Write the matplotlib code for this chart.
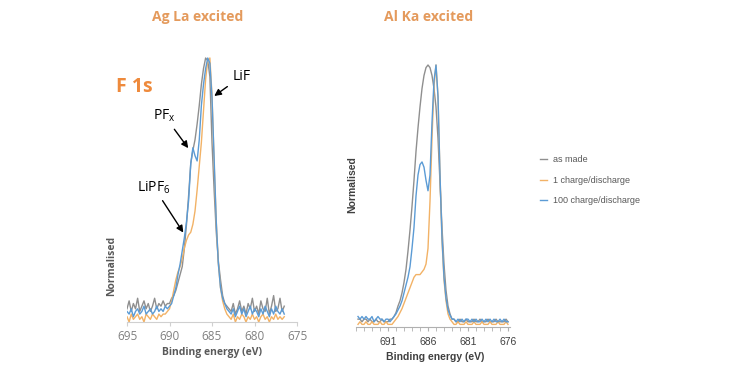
import numpy as np
import matplotlib
matplotlib.use("Agg")
import matplotlib.pyplot as plt
from matplotlib.ticker import MultipleLocator

# F 1s spectra, Ag La excited (695 -> 676.5 eV, 0.25 eV steps)
energy_ag = np.arange(695.0, 676.49, -0.25)
ag_as_made = [0.05, 0.08, 0.04, 0.07, 0.05, 0.09, 0.04, 0.06, 0.08, 0.05, 0.07, 0.04, 0.06, 0.09,
              0.05, 0.07, 0.06, 0.08, 0.06, 0.07, 0.07,
              0.09, 0.10, 0.12, 0.15, 0.18, 0.21, 0.28, 0.37, 0.48, 0.60, 0.65, 0.69, 0.75, 0.82,
              0.90, 0.96, 1.00, 0.99, 0.93, 0.68, 0.50, 0.34, 0.23, 0.16, 0.10, 0.07, 0.06, 0.05,
              0.04, 0.07, 0.03, 0.05, 0.08, 0.04, 0.06, 0.03, 0.07, 0.05, 0.09, 0.04, 0.06, 0.03,
              0.08, 0.05, 0.04, 0.09, 0.03, 0.06, 0.10, 0.04, 0.05, 0.09, 0.04, 0.06]
ag_1_cycle = [0.02, 0.00, 0.03, 0.01, 0.02, 0.03, 0.01, 0.02, 0.00, 0.03, 0.02, 0.01, 0.03, 0.02,
              0.01, 0.03, 0.02, 0.03,
              0.03, 0.04, 0.05, 0.08, 0.12, 0.16, 0.19, 0.21, 0.24, 0.28, 0.31, 0.33, 0.34, 0.37,
              0.42, 0.50, 0.59, 0.68, 0.80, 0.92, 0.99, 1.00, 0.86, 0.60, 0.38, 0.22, 0.13, 0.08,
              0.05, 0.03, 0.02,
              0.01, 0.03, 0.00, 0.02, 0.01, 0.03, 0.02, 0.00, 0.02, 0.01, 0.03, 0.01, 0.02, 0.00,
              0.02, 0.03, 0.01, 0.02, 0.00, 0.02, 0.01, 0.03, 0.01, 0.02, 0.01, 0.02]
ag_100_cycles = [0.04, 0.03, 0.05, 0.02, 0.04, 0.05, 0.03, 0.04, 0.06, 0.03, 0.04, 0.05, 0.03, 0.04,
                 0.06, 0.04, 0.05, 0.04, 0.06, 0.05, 0.06,
                 0.07, 0.10, 0.13, 0.18, 0.22, 0.27, 0.32, 0.38, 0.46, 0.60, 0.66, 0.63, 0.61, 0.69,
                 0.82, 0.90, 0.96, 1.00, 0.98, 0.85, 0.62, 0.38, 0.22, 0.13, 0.09, 0.07, 0.05, 0.04,
                 0.03, 0.05, 0.02, 0.04, 0.06, 0.03, 0.05, 0.02, 0.04, 0.06, 0.03, 0.05, 0.04, 0.02,
                 0.05, 0.03, 0.06, 0.04, 0.02, 0.05, 0.03, 0.06, 0.04, 0.03, 0.05, 0.03]

# F 1s spectra, Al Ka excited (694.75 -> 676 eV, 0.25 eV steps)
energy_al = np.arange(694.75, 675.99, -0.25)
al_as_made = [0.03, 0.03, 0.02, 0.03, 0.03, 0.02, 0.03, 0.02, 0.02, 0.03, 0.02, 0.02, 0.03, 0.02,
              0.02, 0.02, 0.03, 0.03, 0.04,
              0.055, 0.08, 0.10, 0.13, 0.17, 0.22, 0.29, 0.37, 0.46, 0.56, 0.67, 0.76, 0.84, 0.91,
              0.96, 0.99, 1.00, 0.99, 0.96, 0.91, 0.84, 0.72, 0.55, 0.38, 0.24, 0.14, 0.08, 0.05,
              0.03,
              0.03, 0.02, 0.02, 0.03, 0.02, 0.02, 0.03, 0.02, 0.02, 0.02, 0.03, 0.02, 0.02, 0.03,
              0.02, 0.02, 0.02, 0.03, 0.02, 0.02, 0.02, 0.03, 0.02, 0.02, 0.02, 0.02, 0.03, 0.02]
al_1_cycle = [0.01, 0.02, 0.01, 0.01, 0.02, 0.01, 0.01, 0.02, 0.01, 0.01, 0.01, 0.02, 0.01, 0.01,
              0.02, 0.01, 0.01, 0.01, 0.02,
              0.03, 0.04, 0.055, 0.07, 0.09, 0.11, 0.13, 0.15, 0.17, 0.19, 0.20, 0.20, 0.20, 0.21,
              0.22, 0.24, 0.30, 0.48, 0.72, 0.92, 1.00, 0.88, 0.58, 0.33, 0.18, 0.10, 0.05, 0.03,
              0.02,
              0.01, 0.01, 0.02, 0.01, 0.01, 0.01, 0.02, 0.01, 0.01, 0.01, 0.02, 0.01, 0.01, 0.01,
              0.02, 0.01, 0.01, 0.01, 0.02, 0.01, 0.01, 0.01, 0.02, 0.01, 0.01, 0.01, 0.02, 0.01]
al_100_cycles = [0.04, 0.03, 0.04, 0.03, 0.04, 0.03, 0.03, 0.04, 0.02, 0.03, 0.04, 0.03, 0.03, 0.02,
                 0.03, 0.03, 0.02, 0.03, 0.04,
                 0.05, 0.065, 0.08, 0.10, 0.13, 0.16, 0.19, 0.23, 0.30, 0.38, 0.50, 0.58, 0.62,
                 0.63, 0.61, 0.56, 0.52, 0.58, 0.78, 0.94, 1.00, 0.88, 0.58, 0.34, 0.19, 0.11,
                 0.065, 0.045, 0.03,
                 0.03, 0.02, 0.03, 0.02, 0.03, 0.02, 0.03, 0.03, 0.02, 0.03, 0.02, 0.03, 0.02, 0.02,
                 0.03, 0.02, 0.03, 0.02, 0.03, 0.02, 0.03, 0.02, 0.02, 0.03, 0.02, 0.03, 0.02, 0.02]

labels = ["as made", "1 charge/discharge", "100 charge/discharge"]
colors = ["#8f8f8f", "#f2b266", "#5b9bd5"]
ag_ticks = [695, 690, 685, 680, 675]
al_ticks = [691, 686, 681, 676]

W, H = 756, 370
fig = plt.figure(figsize=(W / 100, H / 100), dpi=100)


def px_axes(x0, x1, y_top, y_bot):
    return fig.add_axes([x0 / W, 1 - y_bot / H, (x1 - x0) / W, (y_bot - y_top) / H])


title_color = "#e49a5c"
axis_grey = "#d0d0d0"

# ---- left panel: Ag La ----
ax1 = px_axes(127, 297, 50, 322)
for series, c in zip([ag_as_made, ag_1_cycle, ag_100_cycles], colors):
    ax1.plot(energy_ag, series, color=c, lw=1.0)
ax1.set_xlim(695, 675)
ax1.set_ylim(0, 272 / 264)
ax1.set_xticks(ag_ticks)
ax1.set_xticklabels([str(t) for t in ag_ticks], fontsize=8.5, color="#808080", family="Open Sans")
ax1.tick_params(axis="x", length=3, color=axis_grey, pad=3)
ax1.set_yticks([])
for s in ["top", "right", "left"]:
    ax1.spines[s].set_visible(False)
ax1.spines["bottom"].set_color(axis_grey)

arrow = dict(arrowstyle="-|>", color="black", lw=1.0, mutation_scale=10)
ax1.annotate("LiF", xy=(685.0, 0.85), xytext=(682.6, 0.93), fontsize=10, va="center",
             family="Open Sans", arrowprops=arrow)
ax1.annotate(r"$\mathregular{PF_x}$", xy=(687.6, 0.65), xytext=(691.9, 0.78), fontsize=10,
             va="center", family="Open Sans", arrowprops=arrow)
ax1.annotate(r"$\mathregular{LiPF_6}$", xy=(688.2, 0.33), xytext=(693.8, 0.51), fontsize=10,
             va="center", family="Open Sans", arrowprops=arrow)

# ---- right panel: Al Ka ----
ax2 = px_axes(356, 510, 50, 327)
for series, c, lab in zip([al_as_made, al_1_cycle, al_100_cycles], colors, labels):
    ax2.plot(energy_al, series, color=c, lw=1.0, label=lab)
ax2.set_xlim(695, 675.75)
ax2.set_ylim(0, 277 / 262)
ax2.set_xticks(al_ticks)
ax2.set_xticklabels([str(t) for t in al_ticks], fontsize=7.5, color="#404040",
                    family="Liberation Sans")
ax2.xaxis.set_minor_locator(MultipleLocator(1))
ax2.tick_params(axis="x", which="both", length=3, color="#b0b0b0", pad=4)
ax2.set_yticks([])
for s in ["top", "right", "left"]:
    ax2.spines[s].set_visible(False)
ax2.spines["bottom"].set_color("#b0b0b0")

# ---- texts ----
fig.text(198 / W, 1 - 17 / H, "Ag La excited", ha="center", va="center", fontsize=10,
         fontweight="bold", color=title_color, family="Open Sans")
fig.text(429 / W, 1 - 17 / H, "Al Ka excited", ha="center", va="center", fontsize=10,
         fontweight="bold", color=title_color, family="Open Sans")
fig.text(116 / W, 1 - 87 / H, "F 1s", ha="left", va="center", fontsize=14,
         fontweight="bold", color="#ee8a3c", family="Open Sans")
fig.text(212 / W, 1 - 353 / H, "Binding energy (eV)", ha="center", va="center", fontsize=7.5,
         fontweight="bold", color="#595959", family="Open Sans")
fig.text(435 / W, 1 - 357 / H, "Binding energy (eV)", ha="center", va="center", fontsize=7.5,
         fontweight="bold", color="#404040", family="Liberation Sans")
fig.text(112 / W, 1 - 266 / H, "Normalised", rotation=90, ha="center", va="center",
         fontsize=7.5, fontweight="bold", color="#595959", family="Open Sans")
fig.text(352 / W, 1 - 185 / H, "Normalised", rotation=90, ha="center", va="center",
         fontsize=7.5, fontweight="bold", color="#404040", family="Liberation Sans")

leg = fig.legend(*ax2.get_legend_handles_labels(), loc="upper left",
                 bbox_to_anchor=(540 / W, 1 - 155 / H), frameon=False,
                 handlelength=0.8, handletextpad=0.6, labelspacing=1.3, borderpad=0,
                 borderaxespad=0, prop={"family": "Liberation Sans", "size": 6.5})
for t in leg.get_texts():
    t.set_color("#595959")

fig.savefig("out.png", dpi=100)
